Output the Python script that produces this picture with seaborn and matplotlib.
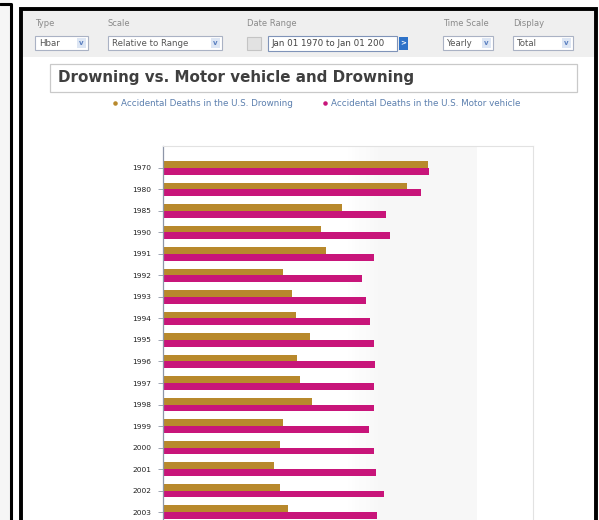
import matplotlib.pyplot as plt
import matplotlib.patches as mpatches
import seaborn as sns
import numpy as np
import pandas as pd

# Data: yearly accidental deaths, shown "relative to range" (% of each series' own maximum)
years = ["1970", "1980", "1985", "1990", "1991", "1992", "1993", "1994", "1995",
         "1996", "1997", "1998", "1999", "2000", "2001", "2002", "2003"]
drowning = [99.6, 91.7, 67.3, 59.4, 61.3, 45.1, 48.5, 50.0, 55.3,
            50.4, 51.5, 56.0, 45.1, 44.0, 41.7, 44.0, 47.0]
motor_vehicle = [100.0, 97.0, 83.8, 85.3, 79.3, 74.8, 76.3, 77.8, 79.3,
                 79.7, 79.3, 79.3, 77.4, 79.3, 80.1, 83.1, 80.5]
series_names = ["Accidental Deaths in the U.S. Drowning",
                "Accidental Deaths in the U.S. Motor vehicle"]
colors = ["#b8892c", "#c8157a"]

df = pd.DataFrame({
    "year": years * 2,
    "series": [series_names[0]] * len(years) + [series_names[1]] * len(years),
    "value": drowning + motor_vehicle,
})

sns.set_style("white")
plt.rcParams["font.family"] = ["DejaVu Sans"]

W, H = 599, 520
fig = plt.figure(figsize=(W / 100, H / 100), dpi=100)

# background layer in pixel coordinates (y down)
bg = fig.add_axes([0, 0, 1, 1], zorder=0)
bg.set_xlim(0, W)
bg.set_ylim(H, 0)
bg.axis("off")


def rect(x0, y0, x1, y1, fc, ec="none", lw=0.8, z=1):
    bg.add_patch(mpatches.Rectangle((x0, y0), x1 - x0, y1 - y0, facecolor=fc,
                                    edgecolor=ec, linewidth=lw, zorder=z))


def label(x, y, s, size=6.0, color="#8a8a8a", **kw):
    bg.text(x, y, s, fontsize=size, color=color, va="center", ha="left", zorder=5, **kw)


def dropdown(x0, x1, y0, y1, s):
    rect(x0, y0, x1, y1, "white", "#aab2c4", 0.8, z=2)
    label(x0 + 4, (y0 + y1) / 2, s, size=6.2, color="#555555")
    rect(x1 - 11, y0 + 2, x1 - 2, y1 - 2, "#dde6f4", z=3)
    bg.text(x1 - 6.5, (y0 + y1) / 2, "v", fontsize=5, color="#5a7fc0", fontweight="bold",
            ha="center", va="center", zorder=5)


# left side panel and frames
rect(0, 0, 10, H, "#f6f6f6")
bg.plot([0, 11, 11], [4, 4, H], color="black", lw=2.2, zorder=4)
rect(21, 9, 596, H + 5, "white", "black", 2.8, z=1)

# toolbar
rect(23, 11, 594, 57, "#efefef", z=2)
label(35, 24, "Type")
label(108, 24, "Scale")
label(247, 24, "Date Range")
label(443, 24, "Time Scale")
label(513, 24, "Display")
dropdown(35, 88, 36, 50, "Hbar")
dropdown(108, 222, 36, 50, "Relative to Range")
rect(247, 37, 261, 50, "#e2e2e2", "#c4c4c4", 0.8, z=2)
rect(268, 36, 397, 51, "white", "#7f93b8", 0.8, z=2)
label(271, 43.5, "Jan 01 1970 to Jan 01 200", size=6.3, color="#444444", clip_on=True)
rect(399, 37, 408, 50, "#2e72c8", z=2)
bg.text(403.5, 43.5, ">", fontsize=5, color="white", fontweight="bold",
        ha="center", va="center", zorder=5)
dropdown(443, 493, 36, 50, "Yearly")
dropdown(513, 573, 36, 50, "Total")

# title box
rect(50, 64, 577, 92, "white", "#c9c9c9", 0.9, z=2)
bg.text(58, 77.5, "Drowning vs. Motor vehicle and Drowning", fontsize=10.9,
        fontweight="bold", color="#3f3f3f", va="center", ha="left", zorder=5)

# legend row
leg_y = 103
bg.scatter([115], [leg_y], s=5, color=colors[0], zorder=5)
label(121, leg_y, series_names[0], size=6.3, color="#5b7fae")
bg.scatter([325], [leg_y], s=5, color=colors[1], zorder=5)
label(331, leg_y, series_names[1], size=6.3, color="#5b7fae")

# chart axes: left 163, right 533, top 146, bottom = figure bottom
ax = fig.add_axes([163 / W, 0, (533 - 163) / W, (H - 146) / H], zorder=3)
grad = np.concatenate([np.ones(48), np.linspace(1.0, 0.965, 12),
                       np.full(25, 0.965), np.ones(15)])
ax.imshow(np.tile(grad, (2, 1)), cmap="gray", vmin=0, vmax=1, aspect="auto",
          extent=[0, 1, 0, 1], transform=ax.transAxes, zorder=0)

sns.barplot(data=df, y="year", x="value", hue="series", orient="h",
            palette=colors, width=0.63, saturation=1, linewidth=0,
            legend=False, ax=ax, zorder=2)

ax.set_xlim(0, 139)
ax.set_ylim(16.37, -1.02)
ax.set_xlabel("")
ax.set_ylabel("")
ax.set_xticks([])
ax.tick_params(axis="y", labelsize=5.4, labelcolor="#222222", length=3.5,
               width=0.6, color="#9098a8", direction="out", pad=5, left=True)
for side in ["top", "right"]:
    ax.spines[side].set_color("#e2e2e2")
    ax.spines[side].set_linewidth(0.8)
ax.spines["bottom"].set_visible(False)
ax.spines["left"].set_color("#8e96a8")
ax.spines["left"].set_linewidth(0.9)

fig.savefig("out.png", dpi=100)
